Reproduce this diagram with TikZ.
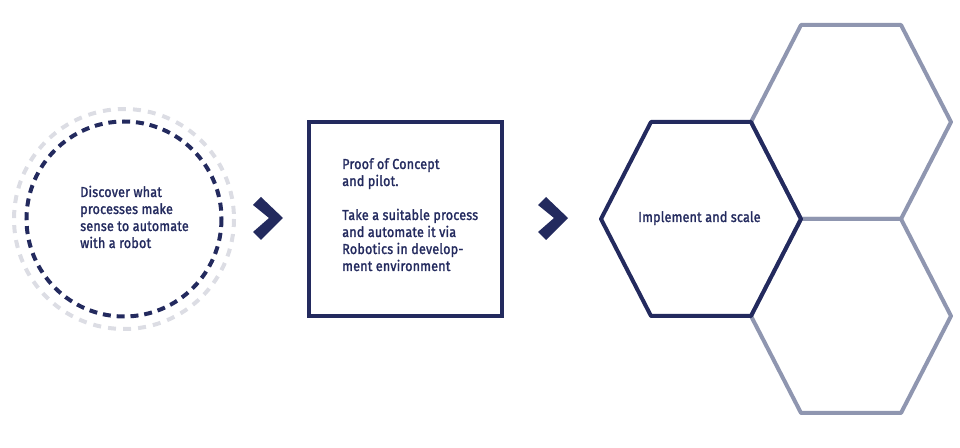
\documentclass[tikz,border=0pt]{standalone}
\usepackage{fontspec}
\setmainfont{Fira Sans}[FakeStretch=0.87, FakeBold=1.6, LetterSpace=1.5]
\definecolor{navy}{HTML}{232A5E}
\definecolor{hexgray}{HTML}{8F96B0}
\definecolor{ringgray}{HTML}{DCDDE4}
\tikzset{
	txt/.style={anchor=base west, align=left, inner sep=0pt, text=navy, font=\fontsize{10.8}{12.75}\selectfont},
	hexline/.style={line width=3pt, line join=round},
}
\begin{document}
\begin{tikzpicture}[x=0.75pt, y=-0.75pt, line join=miter]
	\useasboundingbox (0,0) rectangle (960,448);
	% circle
	\coordinate (O) at (124,219);
	\draw[ringgray, line width=3pt, dash pattern=on 6pt off 5.3pt] (O) circle (110);
	\draw[navy, line width=3pt, dash pattern=on 6pt off 4.4pt] (O) circle (97.5);
	\node[txt] (discover) at (80,248) {Discover what\\processes make\\sense to automate\\with a robot};
	% square
	\draw[navy, line width=2.8pt] (309,122) rectangle (502,316);
	\node[txt] (poc) at (342,271) {Proof of Concept\\and pilot.\\[12.75pt]Take a suitable process\\and automate it via\\Robotics in develop-\\ment environment};
	% chevrons
	\foreach \x in {283,568}
		\fill[navy] (\x-30,205)--(\x-22,197)--(\x,218)--(\x-22,240)--(\x-30,232)--(\x-14,218)--cycle;
	% hexagons
	\foreach \cx/\cy/\col in {851/122/hexgray, 851/316/hexgray, 701/219/navy}
		\draw[hexline, \col] (\cx-100,\cy)--(\cx-50,\cy-97)--(\cx+50,\cy-97)--(\cx+100,\cy)--(\cx+50,\cy+97)--(\cx-50,\cy+97)--cycle;
	\node[txt] (impl) at (638,222) {Implement and scale};
\end{tikzpicture}
\end{document}
